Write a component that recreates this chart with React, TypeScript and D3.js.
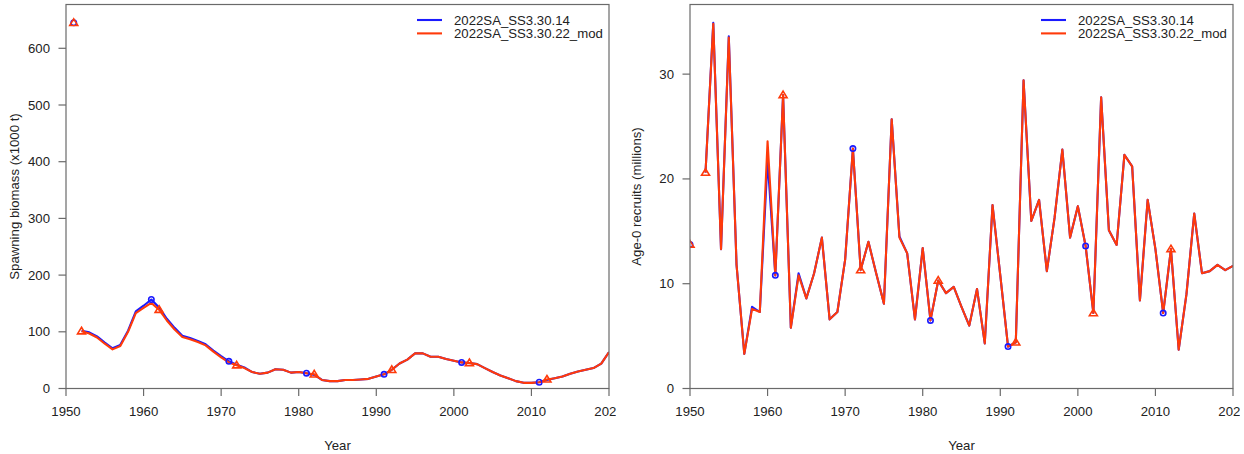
import React from "react";
import * as d3 from "d3";

const modelNames = ["2022SA_SS3.30.14", "2022SA_SS3.30.22_mod"];
const modelColors = ["#1a1aff", "#ff3a0a"];

const xTicks = [1950, 1960, 1970, 1980, 1990, 2000, 2010, 2020];
const ssbTicks = [0, 100, 200, 300, 400, 500, 600];
const recTicks = [0, 10, 20, 30];

const firstYear = 1952;
const ssbVirginYear = 1951;
const recVirginYear = 1950;

const ssbVirgin = [645, 645];
const recVirgin = [13.74, 13.74];

// Spawning biomass (x1000 t), 1952-2020
const ssbBlue = [
  102, 99, 92, 81, 71, 77, 102, 136, 146, 157,
  143, 123, 107, 93, 89, 84, 78, 67, 57, 48,
  42, 37, 29, 26, 28, 34, 33, 28, 29, 27,
  24, 15, 13, 13, 15, 15, 16, 17, 21, 25,
  33, 44, 51, 62, 62, 56, 56, 52, 49, 46,
  45, 43, 36, 29, 23, 18, 13, 10, 10, 11,
  15, 18, 21, 26, 30, 33, 36, 44, 64,
];
const ssbRed = [
  101, 97, 90, 79, 69, 75, 100, 133, 142, 151,
  139, 120, 104, 91, 87, 82, 76, 65, 55, 46,
  41, 36, 29, 26, 28, 34, 33, 28, 29, 27,
  25, 15, 13, 13, 15, 15, 16, 17, 21, 25,
  33, 44, 51, 62, 62, 56, 56, 52, 49, 46,
  45, 43, 36, 29, 23, 18, 13, 10, 10, 11,
  16, 18, 21, 26, 30, 33, 36, 44, 64,
];

// Age-0 recruits (millions), 1952-2020
const recBlue = [
  20.6, 34.9, 13.3, 33.6, 11.8, 3.3, 7.8, 7.3, 21.8, 10.8,
  28.0, 5.8, 11.0, 8.6, 11.0, 14.4, 6.6, 7.3, 12.3, 22.9,
  11.3, 14.0, 11.0, 8.1, 25.7, 14.5, 12.9, 6.6, 13.4, 6.5,
  10.3, 9.1, 9.7, 7.8, 6.0, 9.5, 4.3, 17.5, 10.8, 4.0,
  4.4, 29.4, 16.0, 18.0, 11.2, 16.3, 22.8, 14.4, 17.4, 13.6,
  7.2, 27.8, 15.1, 13.7, 22.3, 21.2, 8.4, 18.0, 13.3, 7.2,
  13.3, 3.7, 9.0, 16.7, 11.0, 11.2, 11.8, 11.3, 11.7,
];
const recRed = [
  20.6, 34.8, 13.3, 33.5, 11.8, 3.3, 7.6, 7.3, 23.6, 10.8,
  28.0, 5.8, 10.8, 8.6, 11.0, 14.4, 6.6, 7.3, 12.3, 22.9,
  11.3, 14.0, 11.0, 8.1, 25.7, 14.4, 12.9, 6.6, 13.4, 6.5,
  10.3, 9.1, 9.7, 7.8, 6.0, 9.5, 4.3, 17.5, 10.8, 4.0,
  4.4, 29.4, 16.0, 18.0, 11.2, 16.3, 22.8, 14.4, 17.4, 13.6,
  7.2, 27.8, 15.1, 13.7, 22.3, 21.2, 8.4, 18.0, 13.3, 7.2,
  13.3, 3.7, 9.0, 16.7, 11.0, 11.2, 11.8, 11.3, 11.7,
];

const FONT = "'Liberation Sans', Arial, Helvetica, sans-serif";
const FS = 13.2;
const TXT = "#222";
const AX = "#6a6a6a";

type PanelProps = {
  id: string;
  x0: number;
  x1: number;
  y0: number;
  y1: number;
  clipL: number;
  clipR: number;
  yTicks: number[];
  yLabel: string;
  yLabelX: number;
  series: number[][];
  virgin: number[];
  virginYear: number;
  legendX: number;
};

function Triangle({ cx, cy, color }: { cx: number; cy: number; color: string }) {
  const h = 6.6;
  const w = 8;
  const p = `M${cx},${cy - h * 0.6} L${cx + w / 2},${cy + h * 0.4} L${cx - w / 2},${cy + h * 0.4} Z`;
  return <path d={p} fill="none" stroke={color} strokeWidth={1.6} strokeLinejoin="miter" />;
}

function Panel(p: PanelProps) {
  const x = d3.scaleLinear().domain([1950, 2020]).range([p.x0, p.x1]);
  const maxV = d3.max([...p.series.flat(), ...p.virgin]) as number;
  const y = d3.scaleLinear().domain([0, maxV * 1.05]).range([p.y1, p.y0]);
  const line = d3
    .line<number>()
    .x((_, i) => x(firstYear + i))
    .y((v) => y(v));
  const midY = (p.y0 + p.y1) / 2;
  const midX = (p.x0 + p.x1) / 2;
  const clipId = `plot-${p.id}`;
  const figId = `fig-${p.id}`;
  return (
    <g>
      <defs>
        <clipPath id={clipId}>
          <rect x={p.x0} y={p.y0} width={p.x1 - p.x0} height={p.y1 - p.y0} />
        </clipPath>
        <clipPath id={figId}>
          <rect x={p.clipL} y={0} width={p.clipR - p.clipL} height={454} />
        </clipPath>
      </defs>
      <g clipPath={`url(#${figId})`}>
        <g clipPath={`url(#${clipId})`}>
          {p.series.map((s, k) => (
            <path key={k} d={line(s) || ""} fill="none" stroke={modelColors[k]} strokeWidth={2.1} strokeLinejoin="round" />
          ))}
          <circle cx={x(p.virginYear)} cy={y(p.virgin[0])} r={2.7} fill="none" stroke={modelColors[0]} strokeWidth={1.6} />
          {p.series[0].map((v, i) =>
            (firstYear + i - 1961) % 10 === 0 ? (
              <circle key={i} cx={x(firstYear + i)} cy={y(v)} r={2.7} fill="none" stroke={modelColors[0]} strokeWidth={1.6} />
            ) : null
          )}
          <Triangle cx={x(p.virginYear)} cy={y(p.virgin[1])} color={modelColors[1]} />
          {p.series[1].map((v, i) =>
            (firstYear + i - 1952) % 10 === 0 ? (
              <Triangle key={i} cx={x(firstYear + i)} cy={y(v)} color={modelColors[1]} />
            ) : null
          )}
        </g>
        <rect x={p.x0} y={p.y0} width={p.x1 - p.x0} height={p.y1 - p.y0} fill="none" stroke={AX} strokeWidth={1.2} />
        {xTicks.map((t) => (
          <g key={t}>
            <line x1={x(t)} x2={x(t)} y1={p.y1} y2={p.y1 + 7.5} stroke={AX} strokeWidth={1.2} />
            <text x={x(t)} y={411} textAnchor="middle" dominantBaseline="central" fontFamily={FONT} fontSize={FS} fill={TXT}>
              {t}
            </text>
          </g>
        ))}
        {p.yTicks.map((t) => (
          <g key={t}>
            <line x1={p.x0 - 7.5} x2={p.x0} y1={y(t)} y2={y(t)} stroke={AX} strokeWidth={1.2} />
            <text x={p.x0 - 16} y={y(t)} textAnchor="end" dominantBaseline="central" fontFamily={FONT} fontSize={FS} fill={TXT}>
              {t}
            </text>
          </g>
        ))}
        <text x={midX} y={445} textAnchor="middle" dominantBaseline="central" fontFamily={FONT} fontSize={FS} fill={TXT}>
          Year
        </text>
        <text
          transform={`translate(${p.yLabelX},${midY}) rotate(-90)`}
          textAnchor="middle"
          dominantBaseline="central"
          fontFamily={FONT}
          fontSize={FS}
          fill={TXT}
        >
          {p.yLabel}
        </text>
        {modelNames.map((n, k) => (
          <g key={n}>
            <line x1={p.legendX} x2={p.legendX + 25} y1={20 + k * 13.4} y2={20 + k * 13.4} stroke={modelColors[k]} strokeWidth={2.1} />
            <text x={p.legendX + 37} y={20.5 + k * 13.4} dominantBaseline="central" fontFamily={FONT} fontSize={FS} fill={TXT}>
              {n}
            </text>
          </g>
        ))}
      </g>
    </g>
  );
}

export default function App() {
  return (
    <div style={{ position: "absolute", left: 0, top: 0 }}>
      <svg width={1244} height={454} style={{ display: "block", background: "#fff" }}>
        <Panel
          id="ssb"
          x0={66}
          x1={609}
          y0={4.5}
          y1={388.5}
          clipL={0}
          clipR={616}
          yTicks={ssbTicks}
          yLabel="Spawning biomass (x1000 t)"
          yLabelX={14}
          series={[ssbBlue, ssbRed]}
          virgin={ssbVirgin}
          virginYear={ssbVirginYear}
          legendX={417}
        />
        <Panel
          id="rec"
          x0={690}
          x1={1233}
          y0={4.5}
          y1={388.5}
          clipL={622}
          clipR={1240}
          yTicks={recTicks}
          yLabel="Age-0 recruits (millions)"
          yLabelX={636}
          series={[recBlue, recRed]}
          virgin={recVirgin}
          virginYear={recVirginYear}
          legendX={1041}
        />
      </svg>
    </div>
  );
}
